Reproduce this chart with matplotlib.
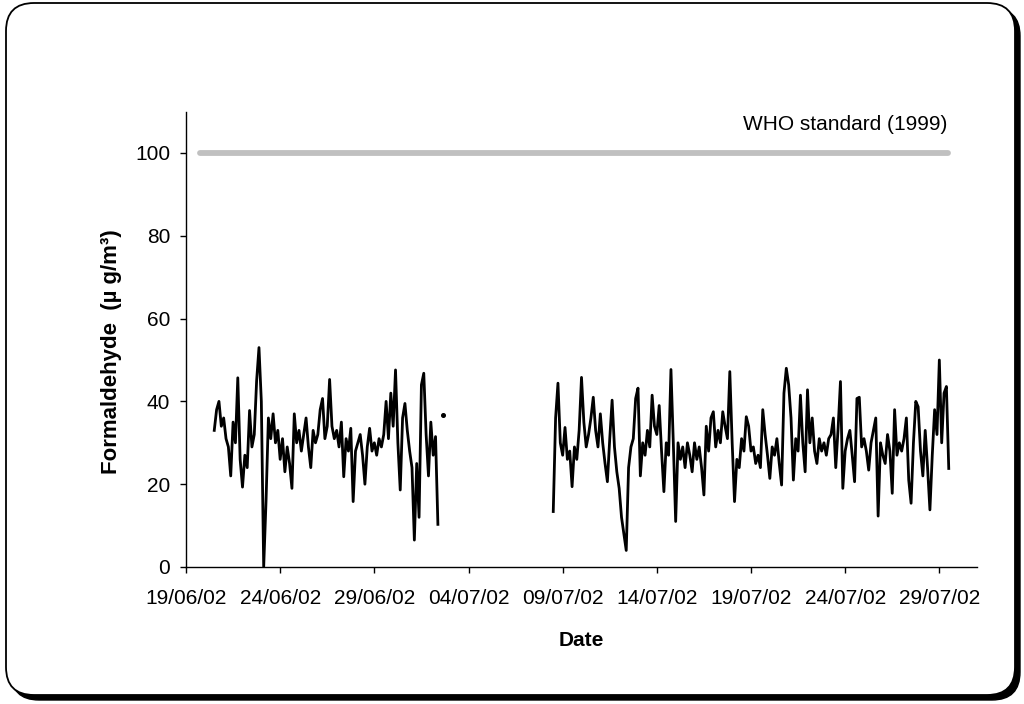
import numpy as np
import pandas as pd
import matplotlib
matplotlib.use('Agg')
import matplotlib.pyplot as plt
import matplotlib.dates as mdates
from matplotlib.patches import FancyBboxPatch
from matplotlib.transforms import IdentityTransform

plt.rcParams['font.family'] = ['Liberation Sans', 'DejaVu Sans']

# ---------------- data ----------------
seg1_start = '2002-06-20 12:00'   # 3-hourly readings, first campaign
seg1_values = [
    33, 38, 40, 34, 36, 31, 29, 22, 35, 30,
    45.7, 26, 19.3, 27, 24, 37.8, 29, 32, 45, 53,
    40, 0, 16, 36, 31, 37, 30, 33, 26, 31,
    23, 29, 25, 19, 37, 30, 33, 28, 32, 36,
    29, 24, 33, 30, 32,
    38, 40.7, 31, 34, 45.3,
    34, 31, 33, 29, 35, 21.8, 31, 28, 33.5, 15.8,
    28, 30, 32, 27, 20, 29, 33.5, 28, 30, 27,
    31, 29, 32, 40, 31, 42, 34, 47.6, 30, 18.6,
    36, 39.5, 33, 28, 24, 6.5, 25, 12, 44, 46.8,
    32, 22, 35, 27, 31.5, 10.3,
]
dot_time = '2002-07-02 15:00'
dot_value = 36.7

seg2_start = '2002-07-08 12:00'   # 3-hourly readings, second campaign
seg2_values = [
    13.4, 36, 44.4, 30, 27, 33.7, 26, 28, 19.4, 29,
    26, 33, 45.8, 35, 29, 32, 36, 41, 33, 29,
    37, 30, 25, 20.6, 31, 40.3, 29, 23, 19, 12,
    8, 4, 24, 29, 31, 40.7, 43.2, 22, 30, 27,
    33, 29, 41.5, 34, 32, 39, 28, 18.2, 30, 27,
    47.7, 30, 11, 30, 26, 29, 24, 30,
    27, 23, 30, 26, 29, 24, 17.4, 34, 28, 36,
    37.5, 29, 33, 30, 37.5, 34, 31, 47.2, 30, 15.8,
    26, 24, 31, 28, 36.3, 34, 28, 29, 25, 27,
    24, 38, 32, 27, 21.4, 29, 27, 31, 25, 19.8,
    42, 48, 44, 36, 21, 31, 28, 41.5, 30, 23,
    42.8, 30, 36, 28, 25, 31, 28, 30, 27, 31,
    32, 36, 24, 33.5, 44.8, 19, 28, 31, 33, 27,
    20.6, 40.7, 41, 29, 31, 28, 23.4, 30, 33, 36,
    12.3, 30, 27, 25, 32, 28, 17.8, 38, 27, 30,
    28, 31, 36, 21, 15.4, 30, 40, 38.7, 28, 22,
    33, 24, 13.8, 27, 38, 32, 50, 30, 42, 43.6, 23.8,
]

who_dates = ['2002-06-19 18:00', '2002-07-29 11:00']
who_values = [100, 100]
who_label = 'WHO standard (1999)'

x_tick_dates = ['2002-06-19', '2002-06-24', '2002-06-29', '2002-07-04', '2002-07-09',
                '2002-07-14', '2002-07-19', '2002-07-24', '2002-07-29']
y_ticks = [0, 20, 40, 60, 80, 100]

# ---------------- figure ----------------
fig = plt.figure(figsize=(10.24, 7.04), dpi=100)
fig.patch.set_facecolor('white')

shadow = FancyBboxPatch((11, 4), 1009, 692, boxstyle='round,pad=0,rounding_size=28',
                        transform=IdentityTransform(), facecolor='black',
                        edgecolor='black', zorder=-3)
border = FancyBboxPatch((6, 9), 1009, 692, boxstyle='round,pad=0,rounding_size=28',
                        transform=IdentityTransform(), facecolor='white',
                        edgecolor='black', linewidth=1.3, zorder=-2)
fig.add_artist(shadow)
fig.add_artist(border)

ax = fig.add_axes([186 / 1024, 1 - 567 / 704, (977 - 186) / 1024, (567 - 111.6) / 704])
ax.set_facecolor('none')

t1 = pd.date_range(seg1_start, periods=len(seg1_values), freq='3h')
t2 = pd.date_range(seg2_start, periods=len(seg2_values), freq='3h')

ax.plot(pd.to_datetime(who_dates), who_values, color='#C0C0C0', lw=4.2,
        solid_capstyle='round', zorder=2)
ax.plot(t1, seg1_values, color='black', lw=2.0, zorder=3)
ax.plot(t2, seg2_values, color='black', lw=2.0, zorder=3)
ax.plot([pd.Timestamp(dot_time)], [dot_value], 'o', color='black', ms=2.6, zorder=3)

ax.text(pd.Timestamp('2002-07-29 10:00'), 106.8, who_label, ha='right', va='center',
        fontsize=15, color='black')

ax.set_xlim(pd.Timestamp('2002-06-19'), pd.Timestamp('2002-07-31'))
ax.set_ylim(0, 110)
ax.set_xticks(pd.to_datetime(x_tick_dates))
ax.xaxis.set_major_formatter(mdates.DateFormatter('%d/%m/%y'))
ax.set_yticks(y_ticks)

for s in ['top', 'right']:
    ax.spines[s].set_visible(False)
for s in ['left', 'bottom']:
    ax.spines[s].set_linewidth(1.0)
    ax.spines[s].set_color('black')

ax.tick_params(axis='x', direction='out', length=4.5, width=1, pad=11, labelsize=15)
ax.tick_params(axis='y', direction='out', length=4.5, width=1, pad=7, labelsize=15)

fig.text(112 / 1024, 1 - 352 / 704, 'Formaldehyde  (µ g/m³)', rotation=90,
         ha='center', va='center', fontsize=16, fontweight='bold')
fig.text(581 / 1024, 1 - 640 / 704, 'Date', ha='center', va='center',
         fontsize=15, fontweight='bold')

fig.savefig('out.png', dpi=100)
